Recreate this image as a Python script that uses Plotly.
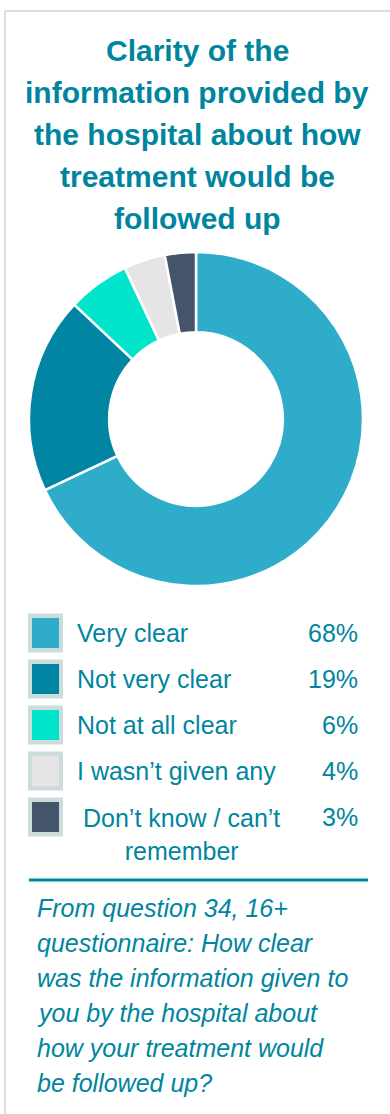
import plotly.graph_objects as go

TITLE_LINES = ["Clarity of the", "information provided by", "the hospital about how",
               "treatment would be", "followed up"]
CATEGORIES = ["Very clear", "Not very clear", "Not at all clear",
              "I wasn\u2019t given any", "Don\u2019t know / can\u2019t<br>remember"]
VALUES = [68, 19, 6, 4, 3]
COLORS = ["#2EACC9", "#0284A3", "#00E5CB", "#E5E5E5", "#44546A"]
NOTE_LINES = ["From question 34, 16+", "questionnaire: How clear",
              "was the information given to", "you by the hospital about",
              "how your treatment would", "be followed up?"]

W, H = 390, 1114
TEAL = "#00859F"
FONT = "Liberation Sans, Arial, sans-serif"


def px(x):
    return x / W


def py(y):
    return 1 - y / H


fig = go.Figure()

fig.add_trace(go.Pie(
    labels=[c.replace("<br>", " ") for c in CATEGORIES],
    values=VALUES,
    marker=dict(colors=COLORS, line=dict(color="white", width=2.5)),
    hole=0.52,
    sort=False,
    direction="clockwise",
    rotation=0,
    textinfo="none",
    hoverinfo="label+percent",
    showlegend=False,
    domain=dict(x=[px(29), px(363)], y=[py(586), py(252)]),
))

shapes = [
    # panel frame
    dict(type="line", x0=px(5), x1=1, y0=py(11), y1=py(11),
         line=dict(color="#DCDCDC", width=2)),
    dict(type="line", x0=px(5), x1=px(5), y0=py(11), y1=0,
         line=dict(color="#DCDCDC", width=2)),
    # divider
    dict(type="line", x0=px(29), x1=px(368), y0=py(880), y1=py(880),
         line=dict(color=TEAL, width=3)),
]
annotations = []

for i, line in enumerate(TITLE_LINES):
    annotations.append(dict(
        text=f"<b>{line}</b>", x=px(197), y=py(50 + i * 42.2),
        xanchor="center", yanchor="middle", showarrow=False,
        font=dict(family=FONT, size=30, color=TEAL),
    ))

row_y = [633, 679, 725, 771, 817]
for cat, val, col, yc in zip(CATEGORIES, VALUES, COLORS, row_y):
    shapes.append(dict(type="rect", x0=px(28), x1=px(63), y0=py(yc - 19.5), y1=py(yc + 19.5),
                       fillcolor="#CCDCDC", line=dict(width=0)))
    shapes.append(dict(type="rect", x0=px(32), x1=px(59), y0=py(yc - 15), y1=py(yc + 15),
                       fillcolor=col, line=dict(width=0)))
    if "<br>" in cat:
        annotations.append(dict(
            text=cat, x=px(181), y=py(yc - 15), xanchor="center", yanchor="top",
            align="center", showarrow=False,
            font=dict(family=FONT, size=25, color=TEAL),
        ))
    else:
        annotations.append(dict(
            text=cat, x=px(75), y=py(yc), xanchor="left", yanchor="middle",
            showarrow=False, font=dict(family=FONT, size=25, color=TEAL),
        ))
    annotations.append(dict(
        text=f"{val}%", x=px(360), y=py(yc), xanchor="right", yanchor="middle",
        showarrow=False, font=dict(family=FONT, size=25, color=TEAL),
    ))

for i, line in enumerate(NOTE_LINES):
    annotations.append(dict(
        text=f"<i>{line}</i>", x=px(35), y=py(908 + i * 35), xanchor="left", yanchor="middle",
        showarrow=False, font=dict(family=FONT, size=25, color=TEAL),
    ))

fig.update_layout(
    width=W, height=H,
    margin=dict(l=0, r=0, t=0, b=0),
    paper_bgcolor="white",
    plot_bgcolor="white",
    shapes=shapes,
    annotations=annotations,
)
fig.write_html("out.html", config={"displayModeBar": False},
               post_script="document.body.style.margin='0';")
